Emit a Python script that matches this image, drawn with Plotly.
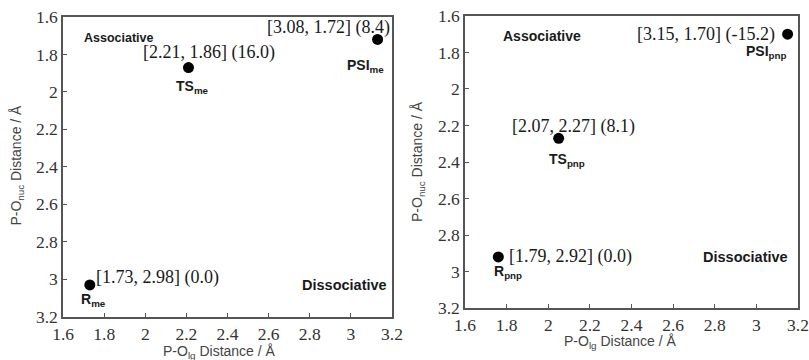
import plotly.graph_objects as go

# Left panel (me)
me_names = ["R<sub>me</sub>", "TS<sub>me</sub>", "PSI<sub>me</sub>"]
me_x = [1.73, 2.21, 3.13]
me_y = [3.03, 1.87, 1.72]
me_labels = ["[1.73, 2.98] (0.0)", "[2.21, 1.86] (16.0)", "[3.08, 1.72] (8.4)"]

# Right panel (pnp)
pnp_names = ["R<sub>pnp</sub>", "TS<sub>pnp</sub>", "PSI<sub>pnp</sub>"]
pnp_x = [1.76, 2.05, 3.15]
pnp_y = [2.92, 2.27, 1.70]
pnp_labels = ["[1.79, 2.92] (0.0)", "[2.07, 2.27] (8.1)", "[3.15, 1.70] (-15.2)"]

tick_vals = [1.6, 1.8, 2.0, 2.2, 2.4, 2.6, 2.8, 3.0, 3.2]
tick_text = ["1.6", "1.8", "2", "2.2", "2.4", "2.6", "2.8", "3", "3.2"]

SERIF = "Liberation Serif, Times New Roman, serif"
SANS = "Liberation Sans, Arial, sans-serif"

fig = go.Figure()
fig.add_trace(go.Scatter(x=me_x, y=me_y, mode="markers", xaxis="x", yaxis="y",
                         marker=dict(color="black", size=11), showlegend=False))
fig.add_trace(go.Scatter(x=pnp_x, y=pnp_y, mode="markers", xaxis="x2", yaxis="y2",
                         marker=dict(color="black", size=11), showlegend=False))

axis_common = dict(range=[1.6, 3.2], tickvals=tick_vals, ticktext=tick_text,
                   showgrid=False, zeroline=False, showline=True, mirror=True,
                   linecolor="#555", linewidth=1.5, ticks="inside", ticklen=4,
                   tickcolor="#555", automargin=False,
                   tickfont=dict(family=SERIF, size=17.5, color="#333"))
yaxis_common = dict(axis_common)
yaxis_common["range"] = [3.2, 1.6]

fig.update_layout(
    width=809, height=360, margin=dict(l=0, r=0, t=0, b=0),
    paper_bgcolor="white", plot_bgcolor="white",
    xaxis=dict(axis_common, domain=[0.078, 0.4845], anchor="y"),
    yaxis=dict(yaxis_common, domain=[0.12, 0.953], anchor="x"),
    xaxis2=dict(axis_common, domain=[0.5748, 0.9864], anchor="y2"),
    yaxis2=dict(yaxis_common, domain=[0.1444, 0.9556], anchor="x2"),
)

def ann(text, x, y, xref, yref, font, size, bold=False, color="#1a1a1a"):
    if bold:
        text = "<b>" + text + "</b>"
    fig.add_annotation(text=text, x=x, y=y, xref=xref, yref=yref, showarrow=False,
                       font=dict(family=font, size=size, color=color),
                       xanchor="center", yanchor="middle")

# left panel annotations
ann("Associative", 1.87, 1.71, "x", "y", SANS, 12.5, True)
ann(me_labels[1], 2.31, 1.79, "x", "y", SERIF, 18)
ann(me_names[1], 2.23, 1.975, "x", "y", SANS, 14, True)
ann(me_labels[2], 2.89, 1.655, "x", "y", SERIF, 18)
ann(me_names[2], 3.07, 1.86, "x", "y", SANS, 14, True)
ann(me_labels[0], 2.06, 2.99, "x", "y", SERIF, 18)
ann(me_names[0], 1.75, 3.11, "x", "y", SANS, 14, True)
ann("Dissociative", 2.967, 3.03, "x", "y", SANS, 14.5, True)

# right panel annotations
ann("Associative", 1.97, 1.71, "x2", "y2", SANS, 14, True)
ann(pnp_labels[2], 2.76, 1.70, "x2", "y2", SERIF, 18)
ann(pnp_names[2], 3.05, 1.80, "x2", "y2", SANS, 14, True)
ann(pnp_labels[1], 2.12, 2.205, "x2", "y2", SERIF, 18)
ann(pnp_names[1], 2.09, 2.39, "x2", "y2", SANS, 14, True)
ann(pnp_labels[0], 2.105, 2.92, "x2", "y2", SERIF, 18)
ann(pnp_names[0], 1.807, 3.00, "x2", "y2", SANS, 14, True)
ann("Dissociative", 2.95, 2.92, "x2", "y2", SANS, 14.5, True)

# axis titles
ann("P-O<sub>lg</sub> Distance / Å", 219 / 809, 1 - 352 / 360, "paper", "paper", SANS, 14, color="#444")
ann("P-O<sub>lg</sub> Distance / Å", 620 / 809, 1 - 342 / 360, "paper", "paper", SANS, 14, color="#444")
for xp, yc in [(17 / 809, 0.54), (418 / 809, 0.55)]:
    fig.add_annotation(text="P-O<sub>nuc</sub> Distance / Å", x=xp, y=yc, xref="paper", yref="paper",
                       showarrow=False, textangle=-90,
                       font=dict(family=SANS, size=14, color="#444"),
                       xanchor="center", yanchor="middle")

fig.write_html("out.html", config={"displayModeBar": False},
               post_script="document.body.style.margin='0';document.body.style.padding='0';document.body.style.overflow='hidden';")
